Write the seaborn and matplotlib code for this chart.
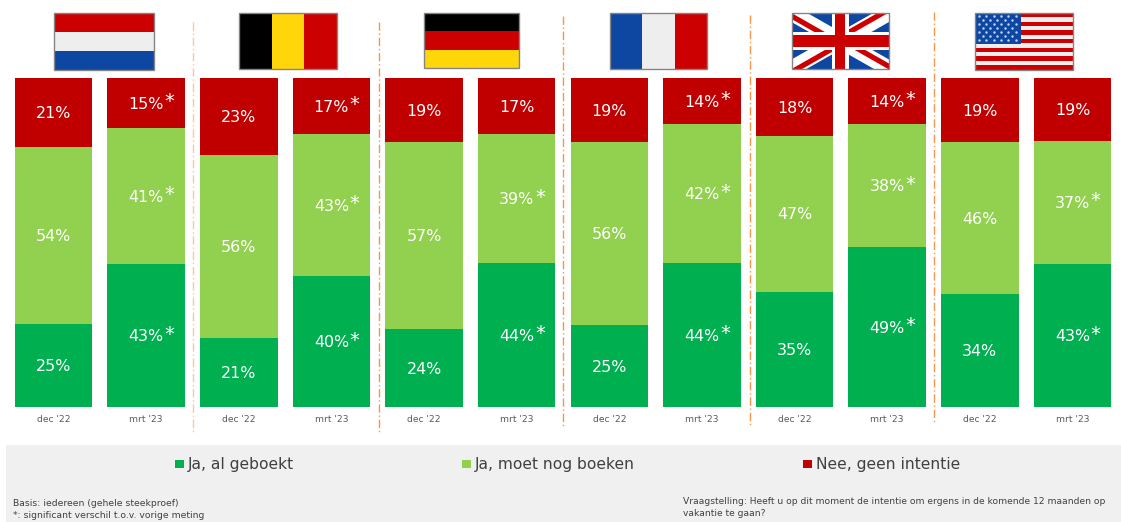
import matplotlib
matplotlib.use("Agg")
import matplotlib.pyplot as plt
from matplotlib.patches import Rectangle, Polygon
import pandas as pd
import seaborn as sns

# ---- data ----
COUNTRIES = ["NL", "BE", "DE", "FR", "UK", "US"]
PERIODS = ["dec '22", "mrt '23"]
SERIES_NAMES = ["Ja, al geboekt", "Ja, moet nog boeken", "Nee, geen intentie"]
booked = [25.2, 43.5, 21.0, 39.8, 23.7, 43.8, 24.9, 43.8, 35.0, 48.6, 34.3, 43.5]
planned = [53.8, 41.3, 55.6, 43.2, 56.8, 39.2, 55.6, 42.2, 47.4, 37.4, 46.2, 37.4]
no_intent = [21.0, 15.2, 23.4, 17.0, 19.5, 17.0, 19.5, 14.0, 17.6, 14.0, 19.5, 19.1]
booked_labels = [25, 43, 21, 40, 24, 44, 25, 44, 35, 49, 34, 43]
planned_labels = [54, 41, 56, 43, 57, 39, 56, 42, 47, 38, 46, 37]
no_intent_labels = [21, 15, 23, 17, 19, 17, 19, 14, 18, 14, 19, 19]
booked_sig = [0, 1, 0, 1, 0, 1, 0, 1, 0, 1, 0, 1]
planned_sig = [0, 1, 0, 1, 0, 1, 0, 1, 0, 1, 0, 1]
no_intent_sig = [0, 1, 0, 1, 0, 0, 0, 1, 0, 1, 0, 0]
FOOT_LEFT = "Basis: iedereen (gehele steekproef)\n*: significant verschil t.o.v. vorige meting"
FOOT_RIGHT = ("Vraagstelling: Heeft u op dit moment de intentie om ergens in de komende 12 maanden op\n"
              "vakantie te gaan?")

# ---- style ----
W, H = 1121, 522
GREEN, LIME, RED = "#00B050", "#92D050", "#C00000"
F_RED, F_BLUE, F_WHITE, F_EDGE = "#CC0000", "#0D47A1", "#EEEEEE", "#858585"
sns.set_theme(style="white")
plt.rcParams["font.family"] = ["DejaVu Sans"]

fig = plt.figure(figsize=(W / 100, H / 100), dpi=100, facecolor="white")

# overlay in pixel coordinates for the decoration
bg = fig.add_axes([0, 0, 1, 1], zorder=0)
bg.set_xlim(0, W)
bg.set_ylim(H, 0)
bg.axis("off")

bg.add_patch(Rectangle((6, 445), W - 6, 77, fc="#F0F0F0", ec="none"))

# divider lines
for x, y0, y1, col in [(193, 22, 432, "#FBC79B"), (378.5, 22, 432, "#F79646"),
                       (563, 16, 426, "#F79646"), (749.5, 15, 426, "#F79646"),
                       (934, 12, 422, "#F79646")]:
    bg.plot([x, x], [y0, y1], color=col, lw=1.0, ls=(0, (6, 2, 1, 2)))


def frame(x, y, w, h):
    bg.add_patch(Rectangle((x, y), w, h, fc="none", ec=F_EDGE, lw=1.0, zorder=6))


def hstripes(x, y, w, h, cols):
    n = len(cols)
    for i, c in enumerate(cols):
        bg.add_patch(Rectangle((x, y + i * h / n), w, h / n, fc=c, ec="none", zorder=3))


def vstripes(x, y, w, h, cols):
    n = len(cols)
    for i, c in enumerate(cols):
        bg.add_patch(Rectangle((x + i * w / n, y), w / n, h, fc=c, ec="none", zorder=3))


# NL
hstripes(54, 13, 100, 57, [F_RED, F_WHITE, F_BLUE])
frame(54, 13, 100, 57)
# BE
vstripes(239, 13, 98, 56, ["#000000", "#FFD60A", F_RED])
frame(239, 13, 98, 56)
# DE
hstripes(424, 13, 95, 55, ["#000000", F_RED, "#FFD60A"])
frame(424, 13, 95, 55)
# FR
vstripes(610, 13, 97, 56, [F_BLUE, F_WHITE, F_RED])
frame(610, 13, 97, 56)

# UK
x, y, w, h = 791.5, 13, 97.5, 55.5
cx, cy = x + w / 2, y + h / 2
bg.add_patch(Rectangle((x, y), w, h, fc=F_BLUE, ec="none", zorder=3))
clip = Rectangle((x, y), w, h, transform=bg.transData)
for (ex, ey), off in [((x, y), 3), ((x + w, y), -3.5), ((x + w, y + h), -2), ((x, y + h), 3.5)]:
    white = Polygon([(ex, ey - 9), (cx, cy - 9), (cx, cy + 9), (ex, ey + 9)],
                    fc="white", ec="none", zorder=3.1)
    bg.add_patch(white)
    white.set_clip_path(clip)
    band = Polygon([(ex, ey + off - 3), (cx, cy + off - 3), (cx, cy + off + 3), (ex, ey + off + 3)],
                   fc=F_RED, ec="none", zorder=3.2)
    bg.add_patch(band)
    band.set_clip_path(clip)
bg.add_patch(Rectangle((cx - 8.5, y), 17, h, fc="white", ec="none", zorder=3.3))
bg.add_patch(Rectangle((x, cy - 9), w, 18, fc="white", ec="none", zorder=3.3))
bg.add_patch(Rectangle((cx - 5, y), 10, h, fc=F_RED, ec="none", zorder=3.4))
bg.add_patch(Rectangle((x, cy - 6), w, 12, fc=F_RED, ec="none", zorder=3.4))
frame(x, y, w, h)

# US
x, y, w, h = 975, 13, 98, 56.5
hstripes(x, y, w, h, [F_RED if i % 2 == 0 else F_WHITE for i in range(13)])
bg.add_patch(Rectangle((x, y), 45.5, 30.5, fc=F_BLUE, ec="none", zorder=4))
sx, sy = [], []
for r in range(7):
    cols = 6 if r % 2 == 0 else 5
    off = 4.0 if r % 2 == 0 else 7.8
    for c in range(cols):
        sx.append(x + off + c * 7.3)
        sy.append(y + 2.8 + r * 4.1)
bg.scatter(sx, sy, s=3.2, c="#BFD2F0", linewidths=0, zorder=5)
frame(x, y, w, h)

# ---- chart ----
ax = fig.add_axes([7.2 / W, 1 - 407 / H, (1118.8 - 7.2) / W, 329 / H], zorder=2)
ax.patch.set_alpha(0)
keys = [f"{c} {p}" for c in COUNTRIES for p in PERIODS]
periods = PERIODS * len(COUNTRIES)
df = pd.DataFrame({"bar": keys, "booked": booked, "planned": planned, "no_intent": no_intent})
df["b2"] = df["booked"]
df["b3"] = df["booked"] + df["planned"]

common = dict(data=df, x="bar", order=keys, width=0.837, saturation=1, ax=ax, linewidth=0, legend=False)
sns.barplot(y="booked", color=GREEN, label=SERIES_NAMES[0], **common)
sns.barplot(y="planned", bottom=df["b2"].to_numpy(), color=LIME, label=SERIES_NAMES[1], **common)
sns.barplot(y="no_intent", bottom=df["b3"].to_numpy(), color=RED, label=SERIES_NAMES[2], **common)

ax.set_xlim(-0.5, 11.5)
ax.set_ylim(0, 100)
ax.set_xlabel("")
ax.set_ylabel("")
ax.set_yticks([])
ax.set_xticks(range(len(keys)))
ax.set_xticklabels(periods, fontsize=6.6, color="#595959")
ax.tick_params(axis="x", length=0, pad=5.5)
sns.despine(ax=ax, left=True, bottom=True)

# value labels
for vals, bases, labs, sig in [(booked, [0] * 12, booked_labels, booked_sig),
                               (planned, booked, planned_labels, planned_sig),
                               (no_intent, df["b3"].tolist(), no_intent_labels, no_intent_sig)]:
    for i, (v, b, t, s) in enumerate(zip(vals, bases, labs, sig)):
        yc = b + v / 2
        ax.annotate(f"{t}%", xy=(i, yc), xytext=(0, -0.8), textcoords="offset points",
                    color="white", fontsize=11.4, ha="center", va="center")
        if s:
            ax.annotate("*", xy=(i, yc), xytext=(13.2, 1.0), textcoords="offset points",
                        color="white", fontsize=14, ha="left", va="center")

# legend
handles, labels = ax.get_legend_handles_labels()
fig.legend(handles, labels, ncol=3, loc="center", bbox_to_anchor=(567.5 / W, 1 - 465 / H),
           frameon=False, fontsize=11.2, labelcolor="#404040", handlelength=0.58, handleheight=0.45,
           handletextpad=0.25, columnspacing=10.8, borderpad=0, borderaxespad=0)

# footnotes
bg.text(13, 509.5, FOOT_LEFT, fontsize=6.7, color="#404040", va="center", ha="left", linespacing=1.42)
bg.text(683, 507.5, FOOT_RIGHT, fontsize=6.6, color="#404040", va="center", ha="left", linespacing=1.42)

fig.savefig("out.png", dpi=100)
